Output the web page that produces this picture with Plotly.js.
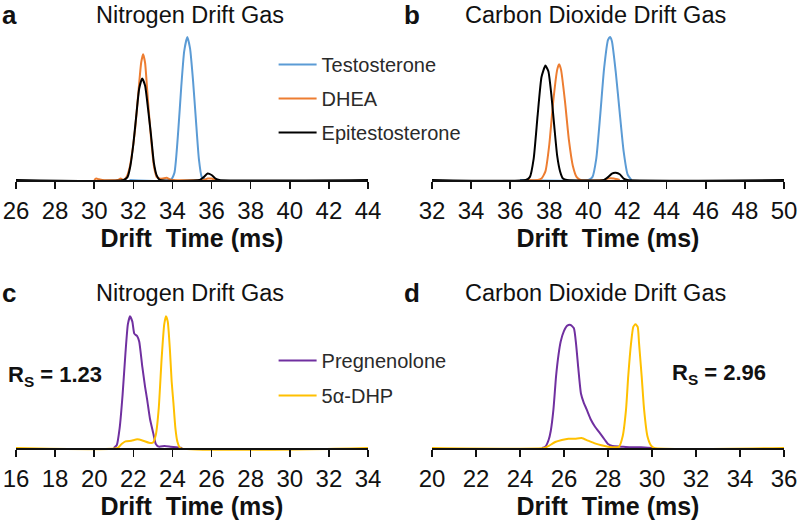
<!DOCTYPE html>
<html>
<head>
<meta charset="utf-8">
<script src="https://cdn.plot.ly/plotly-3.0.1.min.js"></script>
<style>html,body{margin:0;padding:0;background:#fff;}#chart{width:800px;height:524px;}</style>
</head>
<body>
<div id="chart"></div>
<script>
// Panel a: Nitrogen drift gas
const aTestX = [31.8, 33.9, 34.1, 34.3, 34.45, 34.6, 34.76, 34.9, 35.05, 35.2, 35.35, 35.5, 35.7];
const aTestY = [0, 0, 0.05, 0.35, 0.65, 0.9, 1.0, 0.92, 0.7, 0.42, 0.15, 0.02, 0];
const aDheaX = [30.0, 30.1, 30.25, 30.4, 31.2, 31.35, 31.5, 31.65, 31.8, 31.95, 32.1, 32.25, 32.4, 32.5, 32.6, 32.75, 32.9, 33.05, 33.2, 33.35, 33.5, 33.7, 33.85, 34.0, 35.6, 35.8, 36.0, 36.2, 36.4];
const aDheaY = [0, 0.01, 0.005, 0, 0, 0.01, 0, 0.02, 0.08, 0.2, 0.37, 0.6, 0.82, 0.88, 0.82, 0.55, 0.3, 0.1, 0.02, 0.01, 0.01, 0.015, 0.005, 0, 0, 0.01, 0.01, 0, 0];
const aEpiX = [26, 31.5, 31.7, 31.85, 32.0, 32.15, 32.3, 32.45, 32.6, 32.75, 32.9, 33.05, 33.2, 33.35, 35.4, 35.6, 35.8, 36.0, 36.2, 36.4, 44];
const aEpiY = [0, 0, 0.02, 0.1, 0.25, 0.45, 0.64, 0.71, 0.66, 0.5, 0.32, 0.12, 0.03, 0, 0, 0.02, 0.045, 0.035, 0.01, 0, 0];

// Panel b: Carbon dioxide drift gas
const bTestX = [36.5, 40.0, 40.2, 40.4, 40.6, 40.8, 41.0, 41.1, 41.2, 41.4, 41.6, 41.8, 42.0, 42.2];
const bTestY = [0, 0, 0.02, 0.15, 0.45, 0.78, 0.98, 1.0, 0.97, 0.75, 0.47, 0.2, 0.04, 0];
const bDheaX = [36.8, 37.4, 37.6, 37.8, 38.0, 38.2, 38.4, 38.5, 38.6, 38.8, 39.0, 39.2, 39.4, 39.6, 40.8, 41.0, 41.3, 41.6];
const bDheaY = [0, 0, 0.01, 0.06, 0.25, 0.55, 0.77, 0.81, 0.77, 0.55, 0.28, 0.1, 0.02, 0, 0, 0.01, 0.01, 0];
const bEpiX = [32, 36.8, 37.0, 37.2, 37.4, 37.6, 37.8, 37.95, 38.1, 38.25, 38.4, 38.55, 38.7, 38.9, 40.8, 41.0, 41.2, 41.4, 41.6, 41.8, 42.0, 50];
const bEpiY = [0, 0, 0.02, 0.15, 0.45, 0.72, 0.80, 0.76, 0.6, 0.38, 0.17, 0.06, 0.01, 0, 0, 0.02, 0.045, 0.05, 0.04, 0.01, 0, 0];

// Panel c: Nitrogen drift gas
const cPregX = [21.0, 21.15, 21.3, 21.45, 21.6, 21.72, 21.83, 21.95, 22.05, 22.2, 22.3, 22.46, 22.6, 22.71, 22.85, 23.02, 23.15, 23.3, 23.6, 23.9, 24.2, 24.5];
const cPregY = [0, 0.02, 0.15, 0.4, 0.72, 0.93, 0.99, 0.95, 0.86, 0.84, 0.8, 0.61, 0.46, 0.36, 0.22, 0.11, 0.03, 0.01, 0.015, 0.01, 0.005, 0];
const cDhpX = [16, 21.2, 21.4, 21.6, 21.9, 22.2, 22.5, 22.8, 23.0, 23.15, 23.3, 23.45, 23.58, 23.67, 23.76, 23.87, 23.96, 24.05, 24.15, 24.25, 24.4, 34];
const cDhpY = [0, 0, 0.03, 0.05, 0.055, 0.065, 0.055, 0.04, 0.04, 0.1, 0.3, 0.68, 0.93, 0.99, 0.95, 0.74, 0.5, 0.34, 0.15, 0.05, 0, 0];

// Panel d: Carbon dioxide drift gas
const dPregX = [25.0, 25.15, 25.3, 25.4, 25.52, 25.64, 25.75, 25.85, 26.0, 26.15, 26.3, 26.45, 26.55, 26.65, 26.77, 26.9, 27.03, 27.23, 27.41, 27.64, 27.86, 28.0, 28.2, 28.6, 29.0, 29.5, 30.0];
const dPregY = [0, 0.01, 0.06, 0.13, 0.29, 0.54, 0.7, 0.8, 0.88, 0.92, 0.925, 0.9, 0.78, 0.6, 0.41, 0.34, 0.29, 0.21, 0.16, 0.11, 0.06, 0.03, 0.015, 0.01, 0.005, 0.005, 0];
const dDhpX = [20, 25.1, 25.3, 25.6, 25.9, 26.2, 26.5, 26.8, 27.1, 27.4, 27.7, 28.0, 28.3, 28.5, 28.67, 28.82, 28.92, 29.05, 29.15, 29.25, 29.35, 29.41, 29.53, 29.64, 29.79, 29.95, 30.1, 36];
const dDhpY = [0, 0, 0.015, 0.045, 0.06, 0.07, 0.07, 0.075, 0.055, 0.035, 0.02, 0.01, 0.005, 0.01, 0.09, 0.29, 0.54, 0.79, 0.91, 0.93, 0.91, 0.79, 0.54, 0.29, 0.09, 0.02, 0, 0];

const names = ['Testosterone', 'DHEA', 'Epitestosterone', 'Pregnenolone', '5\u03b1-DHP'];
const colors = ['#5b9bd5', '#ed7d31', '#000000', '#7030a0', '#ffc000'];
const panelTitles = ['Nitrogen Drift Gas', 'Carbon Dioxide Drift Gas', 'Nitrogen Drift Gas', 'Carbon Dioxide Drift Gas'];
const panelLetters = ['a', 'b', 'c', 'd'];
const rsLabels = ['R<sub>S</sub> = 1.23', 'R<sub>S</sub> = 2.96'];
const xRanges = [[26, 44], [32, 50], [16, 34], [20, 36]];
const axisTitle = 'Drift\u00a0 Time (ms)';

const FONT = 'Liberation Sans, Arial, Helvetica, sans-serif';

function tr(x, y, idx, xa, ya, legend, show) {
  return {
    x: x, y: y, type: 'scatter', mode: 'lines',
    name: names[idx], legendgroup: names[idx] + legend,
    line: {color: colors[idx], width: 2, shape: 'spline', smoothing: 0.5},
    xaxis: xa, yaxis: ya, legend: legend, showlegend: show,
    hoverinfo: 'skip'
  };
}

const data = [
  tr(aTestX, aTestY, 0, 'x', 'y', 'legend', true),
  tr(aDheaX, aDheaY, 1, 'x', 'y', 'legend', true),
  tr(aEpiX, aEpiY, 2, 'x', 'y', 'legend', true),
  tr(bTestX, bTestY, 0, 'x2', 'y2', 'legend', false),
  tr(bDheaX, bDheaY, 1, 'x2', 'y2', 'legend', false),
  tr(bEpiX, bEpiY, 2, 'x2', 'y2', 'legend', false),
  tr(cPregX, cPregY, 3, 'x3', 'y3', 'legend2', true),
  tr(cDhpX, cDhpY, 4, 'x3', 'y3', 'legend2', true),
  tr(dPregX, dPregY, 3, 'x4', 'y4', 'legend2', false),
  tr(dDhpX, dDhpY, 4, 'x4', 'y4', 'legend2', false)
];

const H = 524;
function xa(i, dom, pos) {
  return {
    domain: dom, range: xRanges[i], anchor: 'free', position: pos,
    tick0: xRanges[i][0], dtick: 2, ticks: 'outside', ticklen: 7, tickwidth: 1.5, tickcolor: '#111',
    showline: true, linewidth: 1.5, linecolor: '#111', showgrid: false, zeroline: false,
    tickfont: {family: FONT, size: 24, color: '#111'}, ticklabelstandoff: 2,
    title: {text: '<b>' + axisTitle + '</b>', font: {family: FONT, size: 25, color: '#111'}, standoff: 2},
    fixedrange: true
  };
}
function yax(dom, xanchor) {
  return {domain: dom, range: [-0.02, 1.05], visible: false, anchor: xanchor, fixedrange: true};
}
const row1Dom = [1 - 182.86 / H, 1 - 29.85 / H];
const row2Dom = [1 - 450.66 / H, 1 - 308.35 / H];
const row1Pos = 1 - 180 / H;
const row2Pos = 1 - 448 / H;

function ann(text, x, ypx, size, anchor) {
  return {text: text, x: x, y: 1 - ypx / H, xref: 'paper', yref: 'paper', xanchor: anchor, yanchor: 'middle',
          showarrow: false, font: {family: FONT, size: size, color: '#111'}};
}

const layout = {
  width: 800, height: 524,
  margin: {l: 0, r: 0, t: 0, b: 0},
  paper_bgcolor: '#fff', plot_bgcolor: 'rgba(0,0,0,0)',
  font: {family: FONT, color: '#111'},
  xaxis: xa(0, [0.02, 0.46], row1Pos),
  yaxis: yax(row1Dom, 'x'),
  xaxis2: xa(1, [0.54, 0.98], row1Pos),
  yaxis2: yax(row1Dom, 'x2'),
  xaxis3: xa(2, [0.02, 0.46], row2Pos),
  yaxis3: yax(row2Dom, 'x3'),
  xaxis4: xa(3, [0.54, 0.98], row2Pos),
  yaxis4: yax(row2Dom, 'x4'),
  legend: {x: 0.342, y: 1 - 45 / H, xanchor: 'left', yanchor: 'top', bgcolor: 'rgba(0,0,0,0)',
           font: {family: FONT, size: 20, color: '#2a2a2a'}, tracegroupgap: 5, traceorder: 'grouped', itemwidth: 38},
  legend2: {x: 0.342, y: 1 - 341 / H, xanchor: 'left', yanchor: 'top', bgcolor: 'rgba(0,0,0,0)',
            font: {family: FONT, size: 20, color: '#2a2a2a'}, tracegroupgap: 6, traceorder: 'grouped', itemwidth: 38},
  annotations: [
    ann('<b>' + panelLetters[0] + '</b>', 0.0, 15, 26, 'left'),
    ann(panelTitles[0], 0.2375, 15, 23.5, 'center'),
    ann('<b>' + panelLetters[1] + '</b>', 0.503, 15, 26, 'left'),
    ann(panelTitles[1], 0.74375, 15, 23.5, 'center'),
    ann('<b>' + panelLetters[2] + '</b>', 0.0, 293, 26, 'left'),
    ann(panelTitles[2], 0.2375, 293, 23.5, 'center'),
    ann('<b>' + panelLetters[3] + '</b>', 0.503, 293, 26, 'left'),
    ann(panelTitles[3], 0.74375, 293, 23.5, 'center'),
    ann('<b>' + rsLabels[0] + '</b>', 0.008, 376, 22, 'left'),
    ann('<b>' + rsLabels[1] + '</b>', 0.8375, 374, 22, 'left')
  ]
};

Plotly.newPlot('chart', data, layout, {displayModeBar: false, staticPlot: true});
</script>
</body>
</html>
